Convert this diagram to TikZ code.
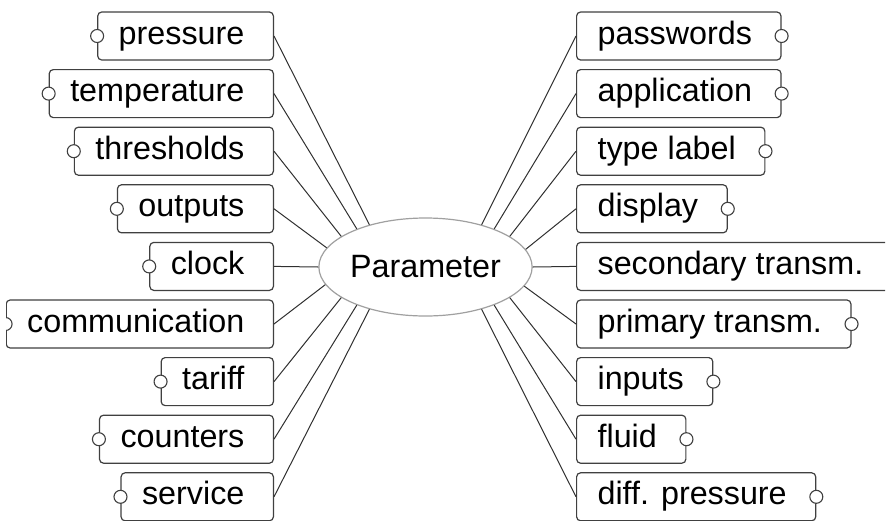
\documentclass[tikz,border=0pt]{standalone}
\usepackage{fontspec}
\setmainfont{Liberation Sans}
\usetikzlibrary{shapes.geometric}
\definecolor{boxgray}{HTML}{404040}
\definecolor{hubgray}{HTML}{A0A0A0}
\definecolor{linkgray}{HTML}{303030}

\begin{document}
\begin{tikzpicture}[x=1pt, y=-1pt,
  every node/.style={font=\fontsize{32.3}{38}\selectfont},
  leaf/.style={draw=boxgray, line width=1.2pt, rounded corners=4pt, fill=white,
    minimum height=48pt, inner ysep=0pt, inner xsep=21pt,
    text height=23pt, text depth=6.7pt, execute at end node={\hspace*{8pt}}},
  knob/.style={draw=boxgray, line width=1.1pt, fill=white, circle,
    inner sep=0pt, minimum size=13pt},
  hub/.style={draw=hubgray, line width=1.2pt, ellipse, fill=white,
    inner sep=0pt, minimum width=205pt, minimum height=98pt},
  link/.style={draw=linkgray, line width=1pt}]
  \useasboundingbox (0,0) rectangle (888,520);
  \clip (6.2,0) rectangle (885,520);
  \node[hub] (hub) at (425.5,267) {Parameter};
  \foreach \txt/\ang [count=\i from 0] in {pressure/143, temperature/151,
      thresholds/160, outputs/169.5, clock/180, communication/190.5,
      tariff/200, counters/209, service/217} {
    \node[leaf, anchor=east] (l\i) at (274,36+57.6*\i) {\txt};
    \node[knob] at (l\i.west) {};
    \draw[link] (l\i.east) -- (hub.\ang);
  }
  \foreach \txt/\ang [count=\i from 0] in {passwords/37, application/29,
      type label/20, display/10.5, secondary transm./0, primary transm./349.5,
      inputs/340, fluid/331, diff. pressure/323} {
    \node[leaf, anchor=west] (r\i) at (576,36+57.6*\i) {\txt};
    \node[knob] at (r\i.east) {};
    \draw[link] (r\i.west) -- (hub.\ang);
  }
\end{tikzpicture}
\end{document}
